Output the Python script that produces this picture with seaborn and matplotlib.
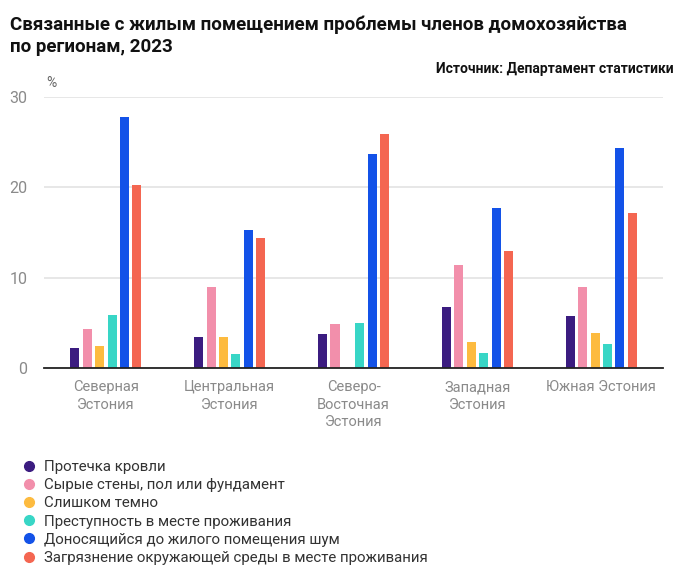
import pandas as pd
import matplotlib
matplotlib.use("Agg")
import matplotlib.pyplot as plt
from matplotlib.lines import Line2D
import seaborn as sns
import numpy as np

# Данные
regions = ["Северная\nЭстония", "Центральная\nЭстония", "Северо-\nВосточная\nЭстония",
           "Западная\nЭстония", "Южная Эстония"]
problems = [
    "Протечка кровли",
    "Сырые стены, пол или фундамент",
    "Слишком темно",
    "Преступность в месте проживания",
    "Доносящийся до жилого помещения шум",
    "Загрязнение окружающей среды в месте проживания",
]
roof_leak = [2.2, 3.4, 3.7, 6.7, 5.7]
damp_walls = [4.3, 9.0, 4.8, 11.4, 9.0]
too_dark = [2.4, 3.4, np.nan, 2.9, 3.8]
crime = [5.8, 1.5, 5.0, 1.6, 2.6]
noise = [27.8, 15.3, 23.7, 17.7, 24.4]
pollution = [20.3, 14.4, 25.9, 12.9, 17.1]

colors = ["#3b1c80", "#f28fab", "#fdbb3f", "#38d6c6", "#1352e8", "#f46651"]

series = [roof_leak, damp_walls, too_dark, crime, noise, pollution]
rows = []
for name, vals in zip(problems, series):
    for reg, v in zip(regions, vals):
        rows.append({"Регион": reg, "Проблема": name, "Значение": v})
df = pd.DataFrame(rows)

plt.rcParams["font.family"] = ["Roboto", "DejaVu Sans"]

fig = plt.figure(figsize=(6.85, 5.71), dpi=100)
ax = fig.add_axes([0.0642, 0.356, 0.904, 0.474])

sns.barplot(data=df, x="Регион", y="Значение", hue="Проблема", hue_order=problems,
            order=regions, palette=colors, width=0.6, gap=0.27, saturation=1,
            legend=False, ax=ax)

ax.set_ylim(0, 30)
ax.set_yticks([0, 10, 20, 30])
ax.set_xlim(-0.5, 4.5)
ax.grid(axis="y", color="#e3e3e3", linewidth=1.2)
ax.set_axisbelow(True)
for s in ["top", "right", "left"]:
    ax.spines[s].set_visible(False)
ax.spines["bottom"].set_color("#222222")
ax.spines["bottom"].set_linewidth(1.3)
ax.tick_params(axis="both", length=0, labelsize=10.5, labelcolor="#8a8a8a")
ax.tick_params(axis="y", pad=12, labelsize=11.5)
ax.tick_params(axis="x", pad=9)
ax.set_xlabel("")
ax.set_ylabel("")
for lbl in ax.get_xticklabels():
    lbl.set_linespacing(1.3)

ax.text(0.004, 1.025, "%", transform=ax.transAxes, fontsize=10, color="#666666",
        ha="left", va="bottom")

# Заголовок и источник
fig.text(0.015, 0.972, "Связанные с жилым помещением проблемы членов домохозяйства\nпо регионам, 2023",
         fontsize=13.5, fontweight="bold", color="#111111", ha="left", va="top", linespacing=1.25)
fig.text(0.983, 0.879, "Источник: Департамент статистики", fontsize=10, fontweight="bold",
         color="#111111", ha="right", va="center")

# Легенда
handles = [Line2D([0], [0], marker="o", linestyle="", markersize=7, markerfacecolor=c,
                  markeredgecolor=c) for c in colors]
fig.legend(handles, problems, loc="upper left", bbox_to_anchor=(0.022, 0.205),
           frameon=False, fontsize=10.8, labelcolor="#333333", handletextpad=0.5,
           labelspacing=0.28, borderaxespad=0, handlelength=1.0)

fig.savefig("out.png", dpi=100)
